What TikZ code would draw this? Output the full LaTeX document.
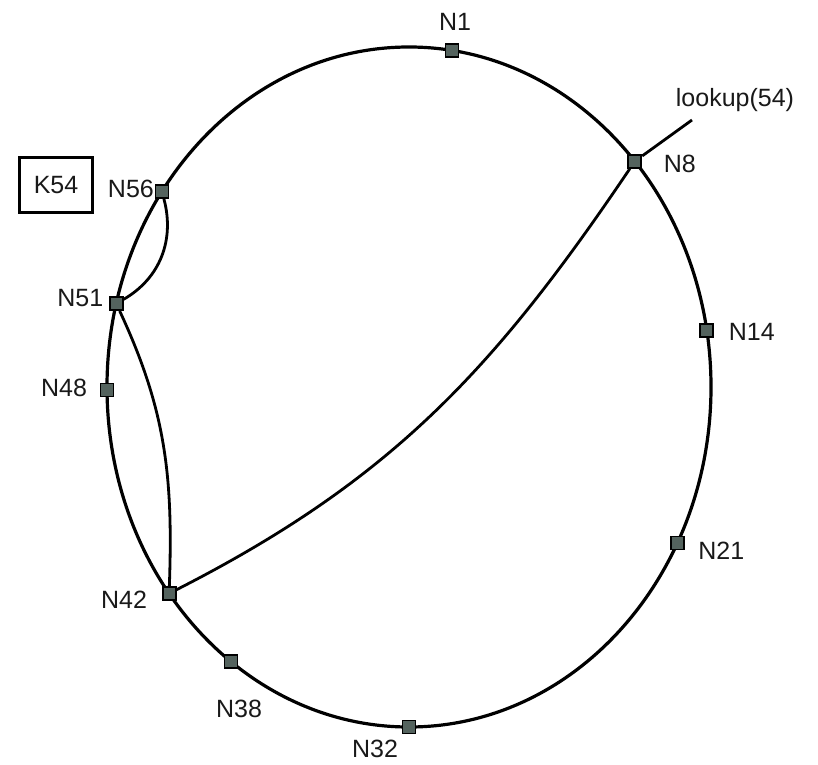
\documentclass[tikz,border=0pt]{standalone}
\usepackage{fontspec}
\setmainfont{Liberation Sans}
\usetikzlibrary{positioning}
\definecolor{peergray}{rgb}{0.33,0.39,0.37}
\tikzset{
  peer/.style={rectangle,draw=black,fill=peergray,line width=1.8pt,minimum size=13pt,inner sep=0pt},
  lab/.style={font=\fontsize{25}{30}\selectfont,inner sep=0pt,text=black!90},
  hop/.style={line width=2.8pt}
}

\begin{document}
\begin{tikzpicture}[x=1pt,y=1pt]
  \useasboundingbox (0,0) rectangle (818,764);
  \coordinate (c) at (409,377);
  \draw[line width=3.2pt] (c) ellipse (302pt and 340pt);
  % peers on the ring
  \foreach \ang/\nm in {81.8/1,41.6/8,9.6/14,-27.3/21,-90/32,233.9/38,217.4/42,180.5/48,165.8/51,144.9/56}
    \node[peer] (n\nm) at ([shift={(\ang:302pt and 340pt)}]c) {};
  \foreach \nm/\dx/\dy in {1/3/29,8/45/-3,14/45/-2,21/44/-8,32/-34/-22,38/8/-47,42/-45/-6,48/-43/2,51/-36/6,56/-31/3}
    \node[lab] (t\nm) at ([shift={(\dx,\dy)}]n\nm) {N\nm};
  % the query
  \coordinate (lk) at (692,644);
  \draw[hop] (n8) -- (lk);
  \node[lab] (lkt) at (735,664) {lookup(54)};
  \node[lab,draw=black,line width=2.6pt,minimum width=73pt,minimum height=55pt] (k54) at (56,579) {K54};
  % finger hops
  \draw[hop] (n8) to[out=236,in=27] (n42);
  \draw[hop] (n42) to[out=88,in=-65] (n51);
  \draw[hop] (n51) to[out=30,in=-75] (n56);
\end{tikzpicture}
\end{document}
